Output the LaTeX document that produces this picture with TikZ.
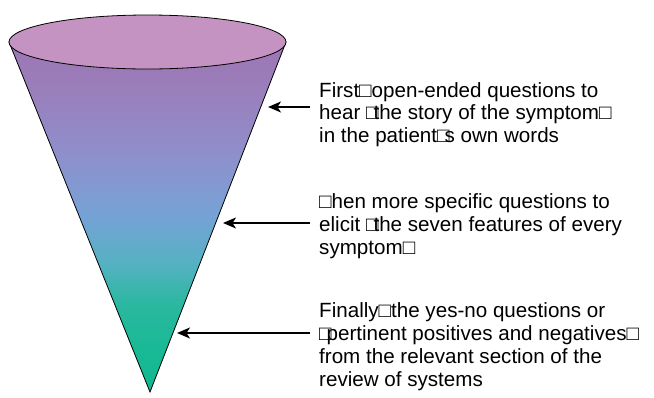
\documentclass[tikz,border=0pt]{standalone}
\usepackage{fontspec}
\setmainfont{Liberation Sans}
\usetikzlibrary{arrows.meta}

% colours of the funnel, from the rim down to the tip
\definecolor{rimfill}{HTML}{C493C2}
\definecolor{fA}{HTML}{9D75B6}
\definecolor{fB}{HTML}{9B7CB9}
\definecolor{fC}{HTML}{8F8FCB}
\definecolor{fD}{HTML}{76A2D6}
\definecolor{fE}{HTML}{55B1C2}
\definecolor{fF}{HTML}{2AB8A0}
\definecolor{fG}{HTML}{17B994}
\definecolor{fH}{HTML}{12B88E}

% 0bp..100bp, bounding box of the filled path spans 25bp..75bp
\pgfdeclareverticalshading{funnelshade}{100bp}{%
  color(0bp)=(fH); color(25bp)=(fH); color(30.4bp)=(fG); color(37.6bp)=(fF);
  color(43.3bp)=(fE); color(50.4bp)=(fD); color(59bp)=(fC);
  color(69.7bp)=(fB); color(75bp)=(fA); color(100bp)=(fA)}

% a glyph box standing in for a missing character
\newcommand\gbox{□}
\newcommand\gboxnarrow{\makebox[0.36em][l]{□}}

\tikzset{
  funnel/.style={draw=black, line width=0.8pt, shading=funnelshade},
  rim/.style={draw=black, line width=0.8pt, fill=rimfill},
  pointer/.style={line width=1.6pt, -{Stealth[length=13pt,width=11pt,inset=3.5pt]}},
  caption/.style={anchor=base west, inner sep=0pt, align=left,
    font=\fontsize{20.6pt}{22.8pt}\selectfont},
}

\begin{document}
\begin{tikzpicture}[x=1pt,y=-1pt]
  \useasboundingbox (0,0) rectangle (654,397);

  % funnel body and its opening
  \coordinate (left) at (9,42);
  \coordinate (right) at (286,42);
  \coordinate (tip) at (150,392);
  \path[funnel] (left) -- (tip) -- (right) -- cycle;
  \path[rim] (147.5,42) ellipse [x radius=138.5, y radius=27];

  % captions (anchored at the baseline of their last line)
  \node[caption] (c1) at (319,142.7) {First\gbox open-ended questions to\\
    hear \gboxnarrow the story of the symptom\gbox\\
    in the patient\gboxnarrow s own words};
  \node[caption] (c2) at (319,254) {\gbox hen more specific questions to\\
    elicit \gboxnarrow the seven features of every\\
    symptom\gbox};
  \node[caption] (c3) at (319,386) {Finally\gbox the yes-no questions or\\
    \gboxnarrow pertinent positives and negatives\gbox\\
    from the relevant section of the\\
    review of systems};

  % arrows pointing at the funnel
  \coordinate (s1) at (310,107);  \coordinate (e1) at (268,107);
  \coordinate (s2) at (310,223);  \coordinate (e2) at (223,223);
  \coordinate (s3) at (310,333);  \coordinate (e3) at (177,333);
  \draw[pointer] (s1) -- (e1);
  \draw[pointer] (s2) -- (e2);
  \draw[pointer] (s3) -- (e3);
\end{tikzpicture}
\end{document}
